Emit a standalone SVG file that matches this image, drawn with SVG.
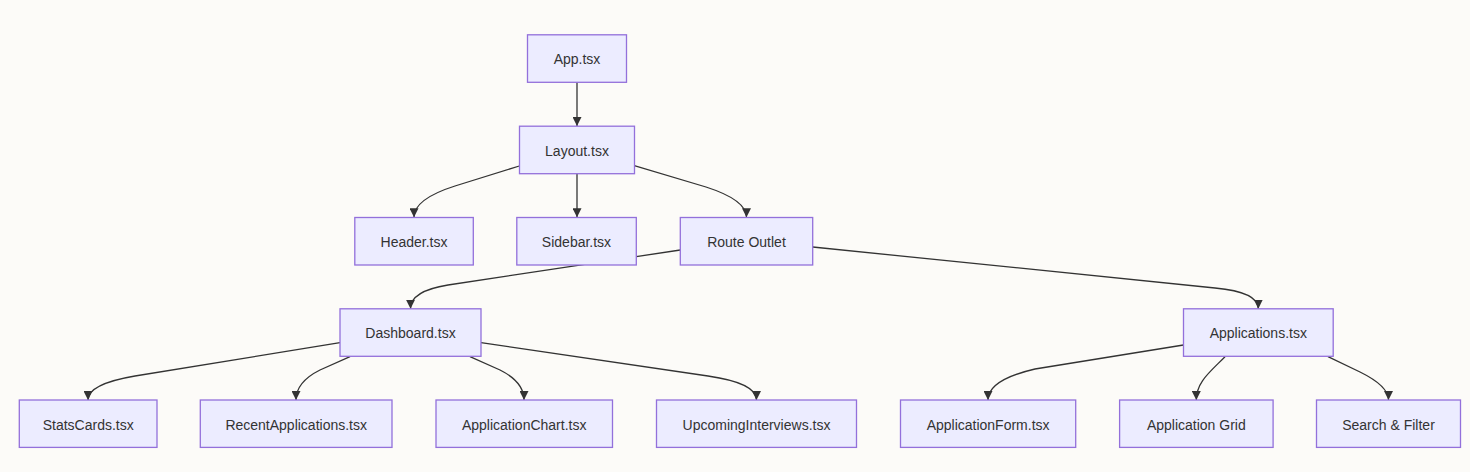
<svg xmlns="http://www.w3.org/2000/svg" width="1470" height="472" viewBox="0 0 1470 472">
<style>
.node rect{fill:#ECECFF;stroke:#9370DB;stroke-width:1.3}
.node text{font-family:"Liberation Sans",Arial,sans-serif;font-size:14px;fill:#333;text-anchor:middle;dominant-baseline:central}
.edge{fill:none;stroke:#333;stroke-width:1.3}
</style>
<defs>
<marker id="arr" viewBox="0 0 10 10" refX="10" refY="5" markerWidth="9" markerHeight="9" markerUnits="userSpaceOnUse" orient="auto">
<path d="M0,0 L10,5 L0,10 z" fill="#333"/>
</marker>
</defs>
<rect x="0" y="0" width="1470" height="472" fill="#FCFBF8"/>
<g id="connectors">
<path class="edge" marker-end="url(#arr)" d="M577,82.3 L577,126"/>
<path class="edge" marker-end="url(#arr)" d="M519.3,166 L455,186 Q414,199 414,217.3"/>
<path class="edge" marker-end="url(#arr)" d="M577,173.7 L577,217.3"/>
<path class="edge" marker-end="url(#arr)" d="M634.3,165.7 L706,187 Q746.5,200 746.5,217.3"/>
<path class="edge" marker-end="url(#arr)" d="M680.3,250 L448,285 Q410.5,291 410.5,308.7"/>
<path class="edge" marker-end="url(#arr)" d="M812.7,247 L1215,288 Q1258.3,292 1258.3,308.7"/>
<path class="edge" marker-end="url(#arr)" d="M340,342.7 L135,376 Q88,384 88,400"/>
<path class="edge" marker-end="url(#arr)" d="M350,356.7 L320,370 Q296,382 296,400"/>
<path class="edge" marker-end="url(#arr)" d="M470,356.7 L500,370 Q524,382 524,400"/>
<path class="edge" marker-end="url(#arr)" d="M481,342.7 L708,376 Q756.5,383 756.5,400"/>
<path class="edge" marker-end="url(#arr)" d="M1183.5,345 L1035,369 Q988,380 988,400"/>
<path class="edge" marker-end="url(#arr)" d="M1225,356.7 C1210,372 1196.3,382 1196.3,400"/>
<path class="edge" marker-end="url(#arr)" d="M1328,356.7 L1360,372 Q1388.5,386 1388.5,400"/>
</g>
<g id="app" class="node"><rect x="527.5" y="34.8" width="99" height="47.5"/><text x="577" y="59.3">App.tsx</text></g>
<g id="layout" class="node"><rect x="519.5" y="126.2" width="115" height="47.5"/><text x="577" y="150.8">Layout.tsx</text></g>
<g id="header" class="node"><rect x="354.8" y="217.5" width="118.5" height="47.5"/><text x="414" y="242">Header.tsx</text></g>
<g id="sidebar" class="node"><rect x="516.8" y="217.5" width="119.5" height="47.5"/><text x="576.5" y="242">Sidebar.tsx</text></g>
<g id="route" class="node"><rect x="680.3" y="217.5" width="132.4" height="47.5"/><text x="746.5" y="242">Route Outlet</text></g>
<g id="dashboard" class="node"><rect x="340" y="308.8" width="141" height="47.5"/><text x="410.5" y="333.3">Dashboard.tsx</text></g>
<g id="applications" class="node"><rect x="1183.5" y="308.8" width="149.7" height="47.5"/><text x="1258.3" y="333.3">Applications.tsx</text></g>
<g id="stats" class="node"><rect x="19.3" y="400" width="137.7" height="47.4"/><text x="88.2" y="424.5">StatsCards.tsx</text></g>
<g id="recent" class="node"><rect x="200.3" y="400" width="191.7" height="47.4"/><text x="296.2" y="424.5">RecentApplications.tsx</text></g>
<g id="chart" class="node"><rect x="436" y="400" width="176.5" height="47.4"/><text x="524.2" y="424.5">ApplicationChart.tsx</text></g>
<g id="upcoming" class="node"><rect x="656.5" y="400" width="200" height="47.4"/><text x="756.5" y="424.5">UpcomingInterviews.tsx</text></g>
<g id="form" class="node"><rect x="900.5" y="400" width="175.2" height="47.4"/><text x="988.1" y="424.5">ApplicationForm.tsx</text></g>
<g id="grid" class="node"><rect x="1119.6" y="400" width="153.5" height="47.4"/><text x="1196.3" y="424.5">Application Grid</text></g>
<g id="search" class="node"><rect x="1316.5" y="400" width="144" height="47.4"/><text x="1388.5" y="424.5">Search &amp; Filter</text></g>
</svg>
